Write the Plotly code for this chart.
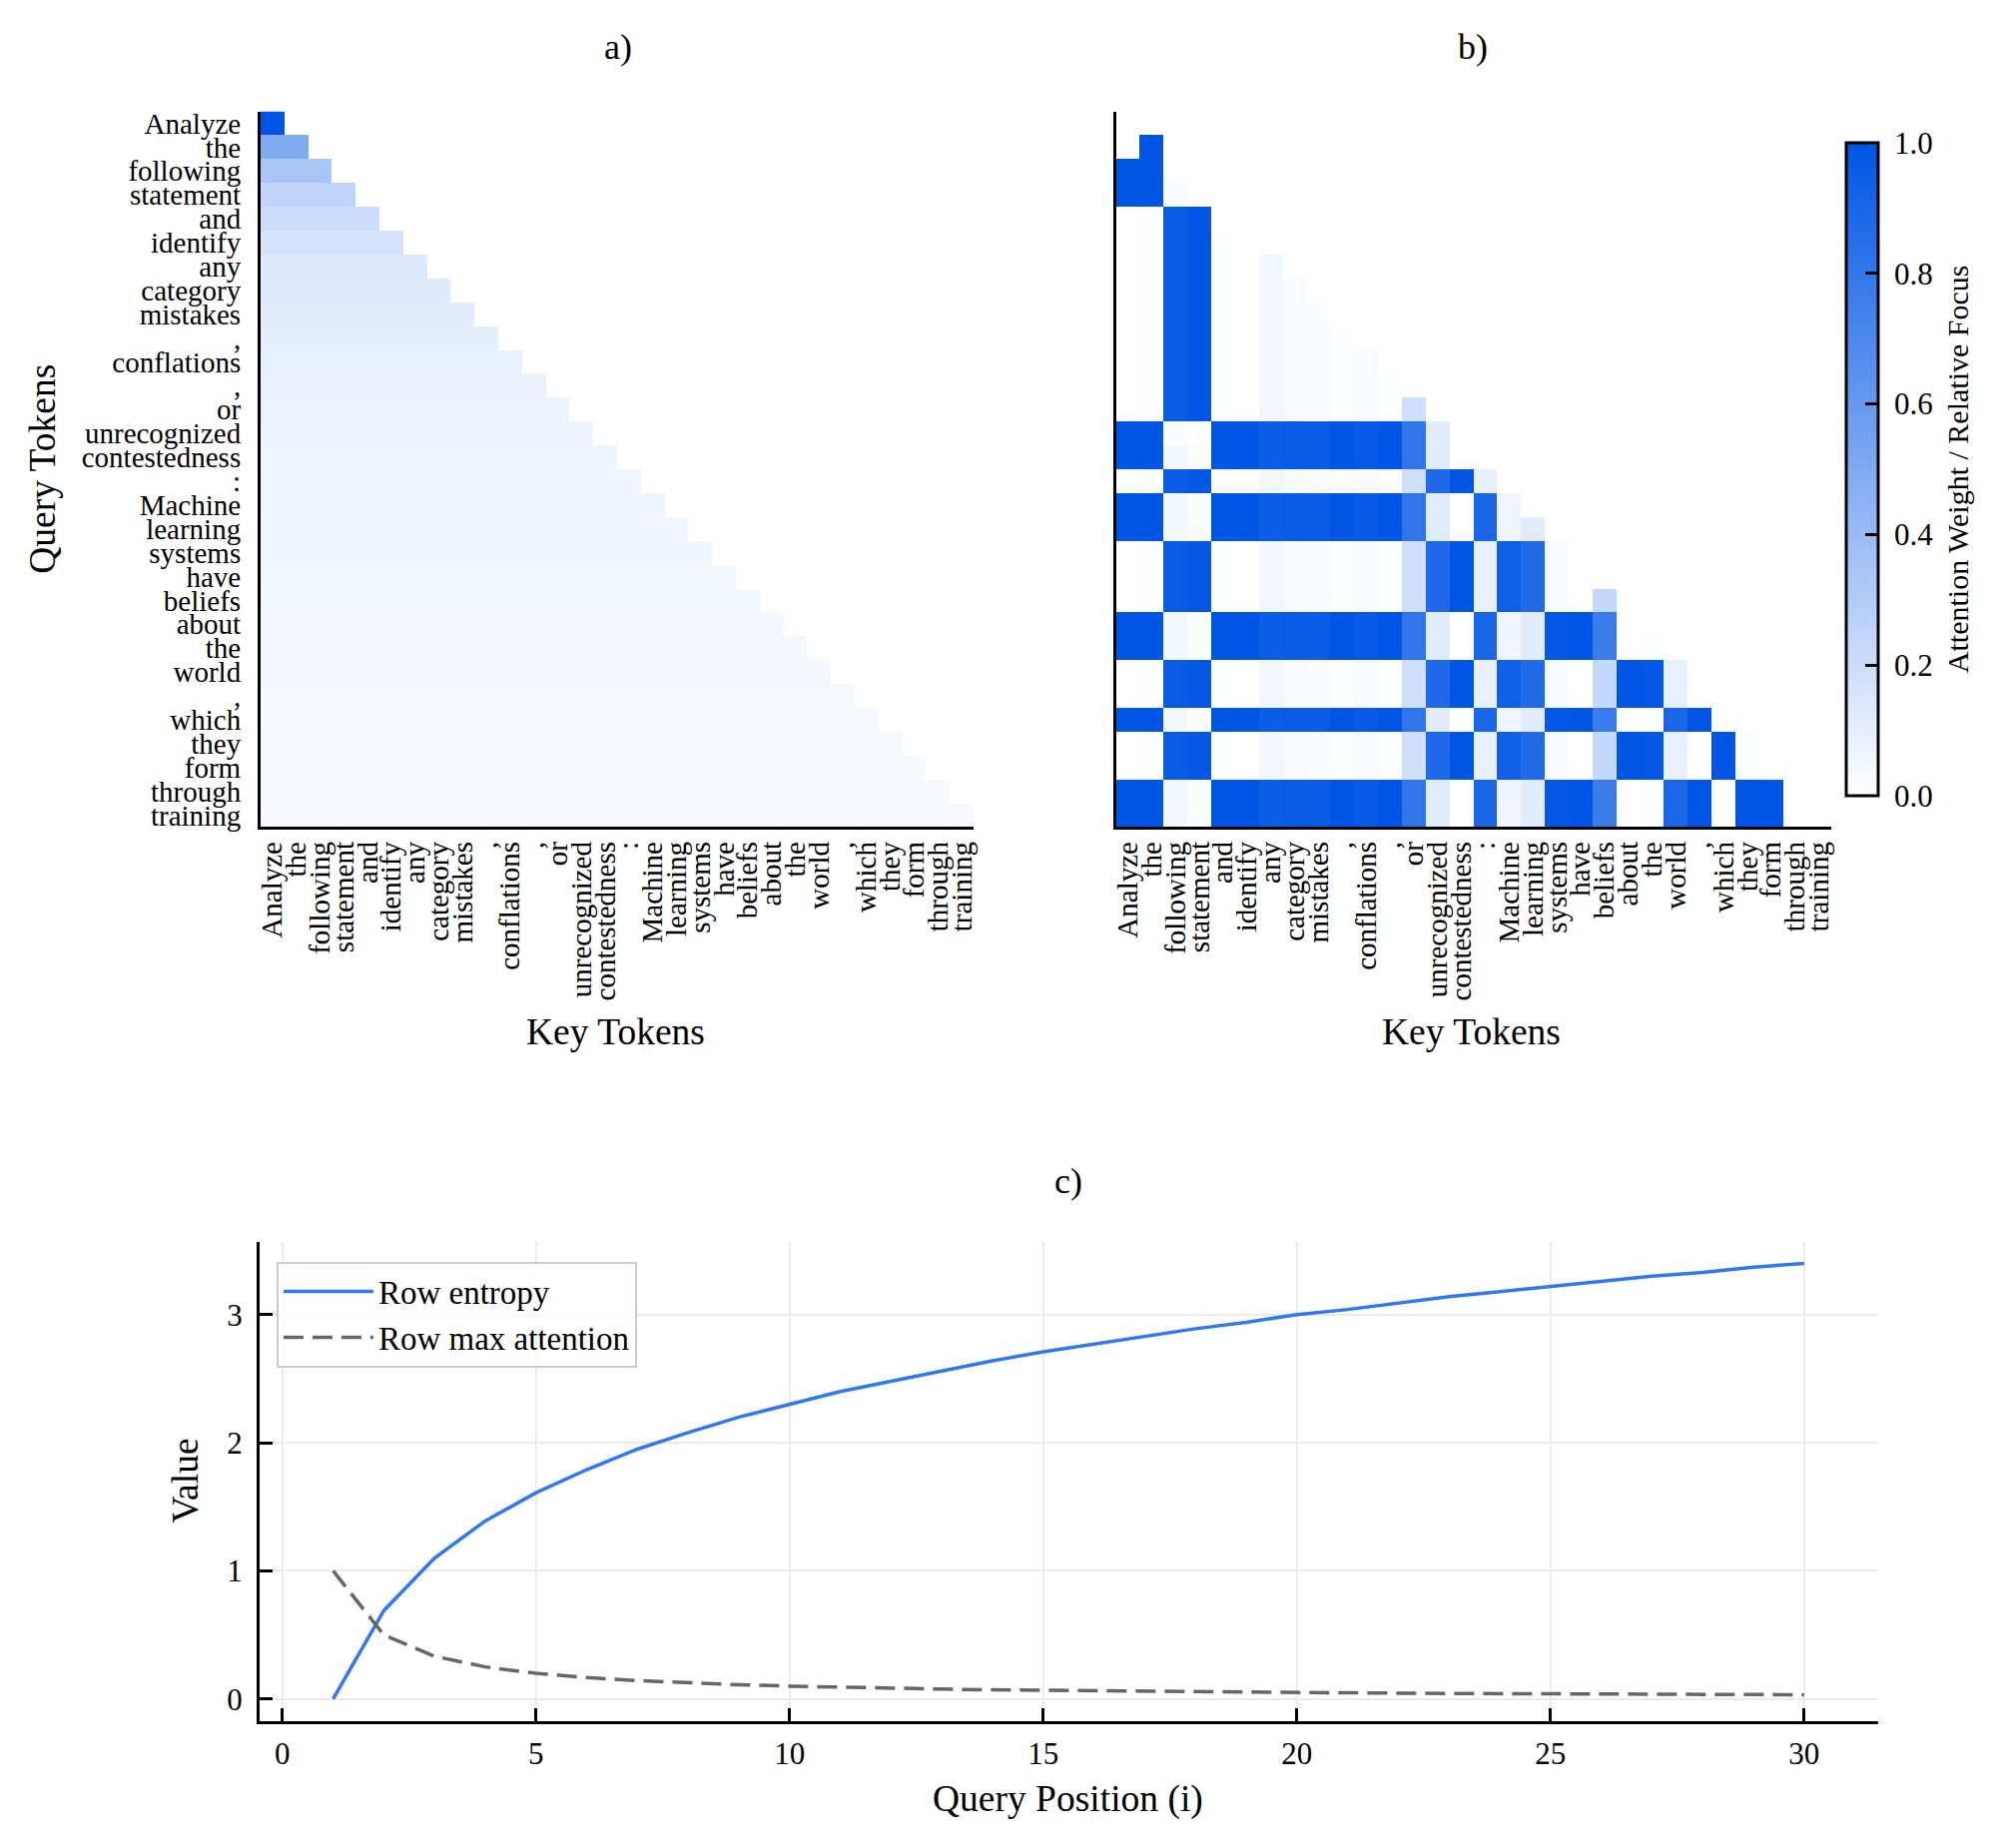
import plotly.graph_objects as go

W, H = 2013, 1851

# ---------------- data ----------------
tokens = ["Analyze", "the", "following", "statement", "and", "identify", "any",
          "category", "mistakes", ",", "conflations", ",", "or", "unrecognized",
          "contestedness", ":", "Machine", "learning", "systems", "have", "beliefs",
          "about", "the", "world", ",", "which", "they", "form", "through", "training"]

query_position = [1, 2, 3, 4, 5, 6, 7, 8, 9, 10, 11, 12, 13, 14, 15,
                  16, 17, 18, 19, 20, 21, 22, 23, 24, 25, 26, 27, 28, 29, 30]

row_entropy = [0.00, 0.69, 1.10, 1.39, 1.61, 1.79, 1.95, 2.08, 2.20, 2.30,
               2.40, 2.48, 2.56, 2.64, 2.71, 2.77, 2.83, 2.89, 2.94, 3.00,
               3.04, 3.09, 3.14, 3.18, 3.22, 3.26, 3.30, 3.33, 3.37, 3.40]

row_max_attention = [1.000, 0.500, 0.333, 0.250, 0.200, 0.167, 0.143, 0.125, 0.111, 0.100,
                     0.091, 0.083, 0.077, 0.071, 0.067, 0.063, 0.059, 0.056, 0.053, 0.050,
                     0.048, 0.045, 0.043, 0.042, 0.040, 0.038, 0.037, 0.036, 0.034, 0.033]

# panel b: relative focus per query row (lower triangle)
relative_focus = [
    [0.00],
    [0.00, 1.00],
    [1.00, 1.00, 0.00],
    [1.00, 1.00, 0.03, 0.00],
    [0.00, 0.01, 0.96, 1.00, 0.00],
    [0.00, 0.01, 0.96, 1.00, 0.01, 0.00],
    [0.00, 0.01, 0.96, 1.00, 0.01, 0.00, 0.05],
    [0.00, 0.01, 0.96, 1.00, 0.01, 0.00, 0.05, 0.03],
    [0.00, 0.01, 0.96, 1.00, 0.01, 0.00, 0.05, 0.03, 0.02],
    [0.00, 0.01, 0.96, 1.00, 0.01, 0.00, 0.05, 0.03, 0.02, 0.01],
    [0.00, 0.01, 0.96, 1.00, 0.01, 0.00, 0.05, 0.03, 0.02, 0.01, 0.03],
    [0.00, 0.01, 0.96, 1.00, 0.01, 0.00, 0.05, 0.03, 0.02, 0.01, 0.03, 0.01],
    [0.00, 0.01, 0.96, 1.00, 0.01, 0.00, 0.05, 0.03, 0.02, 0.01, 0.03, 0.01, 0.19],
    [1.00, 1.00, 0.02, 0.00, 1.00, 1.00, 0.95, 0.96, 0.96, 1.00, 0.97, 1.00, 0.81, 0.12],
    [1.00, 1.00, 0.05, 0.02, 1.00, 1.00, 0.95, 0.96, 0.96, 1.00, 0.97, 1.00, 0.81, 0.12, 0.00],
    [0.00, 0.01, 0.96, 0.98, 0.01, 0.00, 0.05, 0.03, 0.02, 0.01, 0.03, 0.01, 0.19, 0.88, 1.00, 0.09],
    [1.00, 1.00, 0.05, 0.02, 1.00, 1.00, 0.95, 0.96, 0.96, 1.00, 0.97, 1.00, 0.81, 0.12, 0.00, 0.90, 0.06],
    [1.00, 1.00, 0.05, 0.02, 1.00, 1.00, 0.95, 0.96, 0.96, 1.00, 0.97, 1.00, 0.81, 0.12, 0.00, 0.90, 0.06, 0.12],
    [0.00, 0.01, 0.96, 0.98, 0.01, 0.00, 0.05, 0.03, 0.02, 0.01, 0.03, 0.01, 0.19, 0.88, 1.00, 0.09, 0.94, 0.87, 0.03],
    [0.00, 0.01, 0.96, 0.98, 0.01, 0.00, 0.05, 0.03, 0.02, 0.01, 0.03, 0.01, 0.19, 0.88, 1.00, 0.09, 0.94, 0.87, 0.03, 0.00],
    [0.00, 0.01, 0.96, 0.98, 0.01, 0.00, 0.05, 0.03, 0.02, 0.01, 0.03, 0.01, 0.19, 0.88, 1.00, 0.09, 0.94, 0.87, 0.03, 0.00, 0.23],
    [1.00, 1.00, 0.05, 0.02, 1.00, 1.00, 0.95, 0.96, 0.96, 1.00, 0.97, 1.00, 0.81, 0.12, 0.00, 0.90, 0.06, 0.12, 0.98, 1.00, 0.77, 0.00],
    [1.00, 1.00, 0.05, 0.02, 1.00, 1.00, 0.95, 0.96, 0.96, 1.00, 0.97, 1.00, 0.81, 0.12, 0.00, 0.90, 0.06, 0.12, 0.98, 1.00, 0.77, 0.00, 0.01],
    [0.00, 0.01, 0.96, 0.98, 0.01, 0.00, 0.05, 0.03, 0.02, 0.01, 0.03, 0.01, 0.19, 0.88, 1.00, 0.09, 0.94, 0.87, 0.03, 0.00, 0.23, 1.00, 0.98, 0.09],
    [0.00, 0.01, 0.96, 0.98, 0.01, 0.00, 0.05, 0.03, 0.02, 0.01, 0.03, 0.01, 0.19, 0.88, 1.00, 0.09, 0.94, 0.87, 0.03, 0.00, 0.23, 1.00, 0.98, 0.09, 0.00],
    [1.00, 1.00, 0.05, 0.02, 1.00, 1.00, 0.95, 0.96, 0.96, 1.00, 0.97, 1.00, 0.81, 0.12, 0.00, 0.90, 0.06, 0.12, 0.98, 1.00, 0.77, 0.00, 0.01, 0.90, 1.00, 0.00],
    [0.00, 0.01, 0.96, 0.98, 0.01, 0.00, 0.05, 0.03, 0.02, 0.01, 0.03, 0.01, 0.19, 0.88, 1.00, 0.09, 0.94, 0.87, 0.03, 0.00, 0.23, 1.00, 0.98, 0.09, 0.00, 1.00, 0.01],
    [0.00, 0.01, 0.96, 0.98, 0.01, 0.00, 0.05, 0.03, 0.02, 0.01, 0.03, 0.01, 0.19, 0.88, 1.00, 0.09, 0.94, 0.87, 0.03, 0.00, 0.23, 1.00, 0.98, 0.09, 0.00, 1.00, 0.01, 0.00],
    [1.00, 1.00, 0.05, 0.02, 1.00, 1.00, 0.95, 0.96, 0.96, 1.00, 0.97, 1.00, 0.81, 0.12, 0.00, 0.90, 0.06, 0.12, 0.98, 1.00, 0.77, 0.00, 0.01, 0.90, 1.00, 0.00, 1.00, 1.00, 0.00],
    [1.00, 1.00, 0.05, 0.02, 1.00, 1.00, 0.95, 0.96, 0.96, 1.00, 0.97, 1.00, 0.81, 0.12, 0.00, 0.90, 0.06, 0.12, 0.98, 1.00, 0.77, 0.00, 0.01, 0.90, 1.00, 0.00, 1.00, 1.00, 0.00, 0.00],
]

colorbar_ticks = [0.0, 0.2, 0.4, 0.6, 0.8, 1.0]

# ---------------- build matrices ----------------
n = len(tokens)
idx = list(range(n))
# panel a: uniform causal attention, each row's weight = that row's max attention
z_a = [[row_max_attention[i] if j <= i else None for j in range(n)] for i in range(n)]
z_b = [[relative_focus[i][j] if j <= i else None for j in range(n)] for i in range(n)]

FONT = "Liberation Serif"
BLUE_SCALE = [[0.0, "#ffffff"], [1.0, "#0055e5"]]


def px_x(x):
    return x / W


def px_y(y):
    return 1 - y / H


fig = go.Figure()
fig.add_trace(go.Heatmap(z=z_a, x=idx, y=idx, coloraxis="coloraxis",
                         xaxis="x", yaxis="y", hoverongaps=False))
fig.add_trace(go.Heatmap(z=z_b, x=idx, y=idx, coloraxis="coloraxis",
                         xaxis="x2", yaxis="y2", hoverongaps=False))
fig.add_trace(go.Scatter(x=query_position, y=row_entropy, mode="lines",
                         name="Row entropy", line=dict(color="#3079ec", width=3.5),
                         xaxis="x3", yaxis="y3"))
fig.add_trace(go.Scatter(x=query_position, y=row_max_attention, mode="lines",
                         name="Row max attention",
                         line=dict(color="#666666", width=3.5, dash="20px,9px"),
                         xaxis="x3", yaxis="y3"))

tok_font = dict(family=FONT, size=29, color="black")
heat_x_common = dict(range=[-0.5, n - 0.5], tickmode="array", tickvals=idx, ticktext=tokens,
                     tickangle=-90, tickfont=tok_font, showline=True, linecolor="black",
                     linewidth=3, ticks="", showgrid=False, zeroline=False,
                     ticklabelstandoff=0)
heat_y_common = dict(range=[n - 0.5, -0.5], tickmode="array", tickvals=idx, ticktext=tokens,
                     tickfont=tok_font, showline=True, linecolor="black", linewidth=3,
                     ticks="", showgrid=False, zeroline=False, ticklabelstandoff=11)

ya_dom = [px_y(828), px_y(108)]
c_tick_font = dict(family=FONT, size=31, color="black")

fig.update_layout(
    width=W, height=H,
    margin=dict(l=0, r=0, t=0, b=0),
    paper_bgcolor="white", plot_bgcolor="white",
    font=dict(family=FONT, color="black"),
    xaxis=dict(domain=[px_x(257), px_x(974)], anchor="y", **heat_x_common),
    yaxis=dict(domain=ya_dom, anchor="x", **heat_y_common),
    xaxis2=dict(domain=[px_x(1117), px_x(1836)], anchor="y2", **heat_x_common),
    yaxis2=dict(domain=ya_dom, anchor="x2", showticklabels=False,
                **{k: v for k, v in heat_y_common.items() if k not in ("tickfont", "ticklabelstandoff")}),
    xaxis3=dict(domain=[px_x(256), px_x(1883)], anchor="y3", range=[-0.45, 31.45],
                tickmode="array", tickvals=[0, 5, 10, 15, 20, 25, 30],
                tickfont=c_tick_font, showline=True, linecolor="black",
                linewidth=3, ticks="inside", ticklen=13, tickwidth=3, tickcolor="black",
                showgrid=True, gridcolor="#ebebeb", gridwidth=2, zeroline=False,
                ticklabelstandoff=3),
    yaxis3=dict(domain=[px_y(1727), px_y(1245)], anchor="x3", range=[-0.17, 3.57],
                tickmode="array", tickvals=[0, 1, 2, 3],
                tickfont=c_tick_font, showline=True, linecolor="black",
                linewidth=3, ticks="inside", ticklen=13, tickwidth=3, tickcolor="black",
                showgrid=True, gridcolor="#ebebeb", gridwidth=2, zeroline=False,
                ticklabelstandoff=8),
    coloraxis=dict(
        colorscale=BLUE_SCALE, cmin=0, cmax=1,
        colorbar=dict(
            x=px_x(1851), xanchor="left", xpad=0,
            y=px_y(468), yanchor="middle", ypad=0,
            len=654, lenmode="pixels", thickness=32, thicknessmode="pixels",
            outlinewidth=3, outlinecolor="black",
            ticks="inside", ticklen=14, tickwidth=3, tickcolor="black",
            tickmode="array", tickvals=colorbar_ticks,
            ticktext=[" " + f"{v:.1f}" for v in colorbar_ticks],
            tickfont=dict(family=FONT, size=31, color="black"),
        ),
    ),
    legend=dict(x=px_x(273), y=px_y(1265), xanchor="left", yanchor="top",
                bordercolor="#cccccc", borderwidth=2, bgcolor="rgba(255,255,255,0.85)",
                font=dict(family=FONT, size=33, color="black"), itemwidth=90),
    showlegend=True,
)

annotations = [
    dict(text="a)", x=616, y=43, size=36, angle=0),
    dict(text="b)", x=1476, y=43, size=36, angle=0),
    dict(text="c)", x=1069, y=1184, size=36, angle=0),
    dict(text="Query Tokens", x=38, y=468, size=37.5, angle=-90),
    dict(text="Key Tokens", x=614, y=1034, size=37.5, angle=0),
    dict(text="Key Tokens", x=1474, y=1034, size=37.5, angle=0),
    dict(text="Value", x=181, y=1486, size=37.5, angle=-90),
    dict(text="Query Position (i)", x=1069, y=1806, size=37.5, angle=0),
    dict(text="Attention Weight / Relative Focus", x=1964, y=468, size=30, angle=-90),
]
fig.update_layout(annotations=[
    dict(text=a["text"], x=px_x(a["x"]), y=px_y(a["y"]), xref="paper", yref="paper",
         xanchor="center", yanchor="middle", showarrow=False, textangle=a["angle"],
         font=dict(family=FONT, size=a["size"], color="black"))
    for a in annotations
])

fig.write_html("out.html")
